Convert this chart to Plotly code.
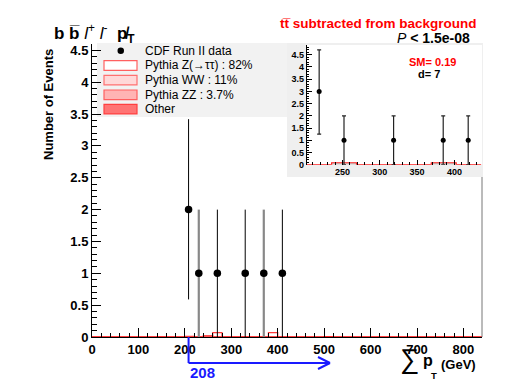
import plotly.graph_objects as go

# ---- data: main plot (sum pT, 20 GeV bins) ----
data_x = [208, 230, 270, 330, 370, 410]
data_y = [2, 1, 1, 1, 1, 1]
data_err_hi = [1.42, 1, 1, 1, 1, 1]
data_err_lo = [1.41, 1, 1, 1, 1, 1]
data_gray = [False, True, False, False, True, False]

bin_lo, bin_w, n_bins = 0, 20, 42
z_bins, z_vals = [200, 260, 380], [0.012, 0.07, 0.07]
ww_bins, ww_vals = [240], [0.021]
zz_bins, zz_vals = [140], [0.007]
oth_bins, oth_vals = [500], [0.006]

# ---- data: inset ----
ins_x = [218.7, 252, 318.5, 385, 418.5]
ins_y = [3, 1, 1, 1, 1]
ins_err_hi = [1.7, 1, 1, 1, 1]
ins_err_lo = [1.75, 1, 1, 1, 1]
ins_lo, ins_w, ins_n = 202, 33.4, 7
ins_sm_bins, ins_sm_vals = [1, 5], [0.08, 0.08]

x_range = [0, 840]
y_range = [0, 4.6]
ins_x_range = [202, 437]
ins_y_range = [0, 4.9]

# page puts the figure 8px in from the corner, so work in reference pixels and shift
OFF = 8
W, H = 507 - OFF, 381 - OFF
L, R, T, B = 92 - OFF, 25, 44 - OFF, 44
FONT = "Liberation Sans, Arial, sans-serif"
BLUE = "#1a1aff"


def fx(px):
    return (px - OFF - L) / (W - L - R)


def fy(py):
    return (H - B - (py - OFF)) / (H - T - B)


def hist(lo, w, n, bins, vals, by_index=False):
    out = [0.0] * n
    for b, v in zip(bins, vals):
        i = b if by_index else int(round((b - lo) / w))
        out[i] += v
    return out


def step(lo, w, vals):
    xs = [lo + i * w for i in range(len(vals) + 1)]
    return xs, list(vals) + [vals[-1]]


h_oth = hist(bin_lo, bin_w, n_bins, oth_bins, oth_vals)
h_zz = hist(bin_lo, bin_w, n_bins, zz_bins, zz_vals)
h_ww = hist(bin_lo, bin_w, n_bins, ww_bins, ww_vals)
h_z = hist(bin_lo, bin_w, n_bins, z_bins, z_vals)
c1 = h_oth
c2 = [a + b for a, b in zip(c1, h_zz)]
c3 = [a + b for a, b in zip(c2, h_ww)]
c4 = [a + b for a, b in zip(c3, h_z)]

fig = go.Figure()

for cum, fill, line in [(c4, "white", "#ff3b3b"), (c3, "#ffd6d6", "#ff5050"),
                        (c2, "#ffb0b0", "#ff4040"), (c1, "#ff7070", "#ff2020")]:
    xs, ys = step(bin_lo, bin_w, cum)
    fig.add_trace(go.Scatter(x=xs, y=ys, mode="lines", line=dict(shape="hv", color=line, width=1.2),
                             fill="tozeroy", fillcolor=fill, hoverinfo="skip", showlegend=False))

for gray in [True, False]:
    idx = [i for i, g in enumerate(data_gray) if g == gray]
    fig.add_trace(go.Scatter(
        x=[data_x[i] for i in idx], y=[data_y[i] for i in idx], mode="markers",
        marker=dict(color="black", size=7.5),
        error_y=dict(type="data", symmetric=False,
                     array=[data_err_hi[i] for i in idx],
                     arrayminus=[data_err_lo[i] for i in idx],
                     color="#888888" if gray else "black",
                     thickness=2.2 if gray else 1, width=0),
        showlegend=False))

# inset
h_ins = hist(ins_lo, ins_w, ins_n, ins_sm_bins, ins_sm_vals, by_index=True)
xs, ys = step(ins_lo, ins_w, h_ins)
fig.add_trace(go.Scatter(x=xs, y=ys, mode="lines", line=dict(shape="hv", color="#ff2020", width=1.2),
                         fill="tozeroy", fillcolor="#c8c8c8", xaxis="x2", yaxis="y2",
                         hoverinfo="skip", showlegend=False))
fig.add_trace(go.Scatter(
    x=ins_x, y=ins_y, mode="markers", xaxis="x2", yaxis="y2",
    marker=dict(color="black", size=5),
    error_y=dict(type="data", symmetric=False, array=ins_err_hi, arrayminus=ins_err_lo,
                 color="#222222", thickness=1.2, width=2),
    showlegend=False))

tickfont = dict(family=FONT, size=13, color="black")
fig.update_layout(
    width=W, height=H, margin=dict(l=L, r=R, t=T, b=B),
    paper_bgcolor="white", plot_bgcolor="white", showlegend=False,
    font=dict(family=FONT, color="black"),
    xaxis=dict(range=x_range, dtick=100, tick0=0, ticks="inside", ticklen=9, tickcolor="black",
               showgrid=False, zeroline=False, showline=True, linecolor="black",
               tickfont=tickfont, tickprefix="<b>", ticksuffix="</b>",
               minor=dict(dtick=20, ticks="inside", ticklen=4.5, tickcolor="black")),
    yaxis=dict(range=y_range, dtick=0.5, tick0=0, ticks="inside", ticklen=9, tickcolor="black",
               showgrid=False, zeroline=False, showline=True, linecolor="black",
               tickfont=tickfont, tickprefix="<b>", ticksuffix="</b>",
               minor=dict(dtick=0.1, ticks="inside", ticklen=4.5, tickcolor="black")),
    xaxis2=dict(domain=[fx(306.7), 1.0], anchor="y2", range=ins_x_range, dtick=50, tick0=0,
                ticks="inside", ticklen=5, tickcolor="black", showgrid=False, zeroline=False,
                showline=False, tickfont=dict(family=FONT, size=9), tickprefix="<b>", ticksuffix="</b>",
                minor=dict(dtick=10, ticks="inside", ticklen=2.5, tickcolor="black")),
    yaxis2=dict(domain=[fy(164.7), fy(45)], anchor="x2", range=ins_y_range, dtick=0.5, tick0=0,
                ticks="inside", ticklen=5, tickcolor="black", showgrid=False, zeroline=False,
                showline=True, linecolor="black", tickfont=dict(family=FONT, size=9),
                tickprefix="<b>", ticksuffix="</b>",
                minor=dict(dtick=0.1, ticks="inside", ticklen=2.5, tickcolor="black")),
)

shapes = []
# inset and legend panels
shapes.append(dict(type="rect", xref="paper", yref="paper", x0=fx(287), x1=fx(483), y0=fy(177), y1=fy(43),
                   fillcolor="#efefef", line=dict(width=0), layer="below"))
shapes.append(dict(type="rect", xref="paper", yref="paper", x0=fx(97), x1=fx(287), y0=fy(117), y1=fy(43),
                   fillcolor="#f2f2f2", line=dict(width=0), layer="below"))
# right edge of the frame, visible only below the inset
shapes.append(dict(type="line", xref="paper", yref="paper", x0=1, x1=1, y0=0, y1=fy(177),
                   line=dict(color="#777777", width=1)))
# legend symbols
shapes.append(dict(type="circle", xref="paper", yref="paper", x0=fx(117.5), x1=fx(124), y0=fy(54), y1=fy(47.5),
                   fillcolor="black", line=dict(width=0)))
leg_boxes = [("white", "#ff6060", 60.7), ("#ffd8d8", "#ff7070", 75.3),
             ("#ffb4b4", "#ff6060", 90.0), ("#ff7474", "#ff4040", 104.3)]
for fill, line, top in leg_boxes:
    shapes.append(dict(type="rect", xref="paper", yref="paper", x0=fx(104), x1=fx(137),
                       y0=fy(top + 9.6), y1=fy(top), fillcolor=fill, line=dict(color=line, width=1.2)))
# blue arrow from the 208 threshold
ax0 = (208 - x_range[0]) / (x_range[1] - x_range[0])
ax1 = fx(330)
arrow = [(ax0, fy(337), ax0, fy(363)), (ax0, fy(363), ax1, fy(363)),
         (fx(318), fy(357), ax1, fy(363)), (fx(318), fy(369), ax1, fy(363))]
for x0, y0, x1, y1 in arrow:
    shapes.append(dict(type="line", xref="paper", yref="paper", x0=x0, y0=y0, x1=x1, y1=y1,
                       line=dict(color=BLUE, width=2)))
fig.update_layout(shapes=shapes)

ann = []


def text(px, py, s, size, color="black", xanchor="left", yanchor="middle", angle=0, family=FONT):
    ann.append(dict(xref="paper", yref="paper", x=fx(px), y=fy(py), text=s, showarrow=False,
                    xanchor=xanchor, yanchor=yanchor, textangle=angle,
                    font=dict(family=family, size=size, color=color)))


leg_labels = ["CDF Run II data", "Pythia Z(\u2192\u03c4\u03c4) : 82%", "Pythia WW : 11%",
              "Pythia ZZ : 3.7%", "Other"]
for lab, py in zip(leg_labels, [50.7, 65.5, 80.0, 94.7, 109.2]):
    text(143, py, lab, 12)

text(52, 33, "<b>b b\u0305</b> <i>l</i><sup>+</sup> <i>l</i><sup>-</sup>  <b>p\u0338</b><sub><b>T</b></sub>", 17)
text(479, 23.5, "<b>tt\u0305 subtracted from background</b>", 13.5, color="#ff0000", xanchor="right")
text(472, 37.5, "<i>P</i> <b>< 1.5e-08</b>", 14, xanchor="right")
text(458, 62, "<b>SM= 0.19</b>", 11, color="#ff0000", xanchor="right")
text(416, 74, "<b>d= 7</b>", 11)
text(188, 372, "<b>208</b>", 15, color=BLUE)
text(48, 105, "<b>Number of Events</b>", 13, xanchor="center", angle=-90)
text(409, 359, "\u2211", 27, xanchor="center")
text(421, 360, "<b>p</b>", 16)
text(429, 375, "<b>T</b>", 9.5)
text(439, 364, "<b>(GeV)</b>", 13)
fig.update_layout(annotations=ann)

fig.write_html("out.html")
